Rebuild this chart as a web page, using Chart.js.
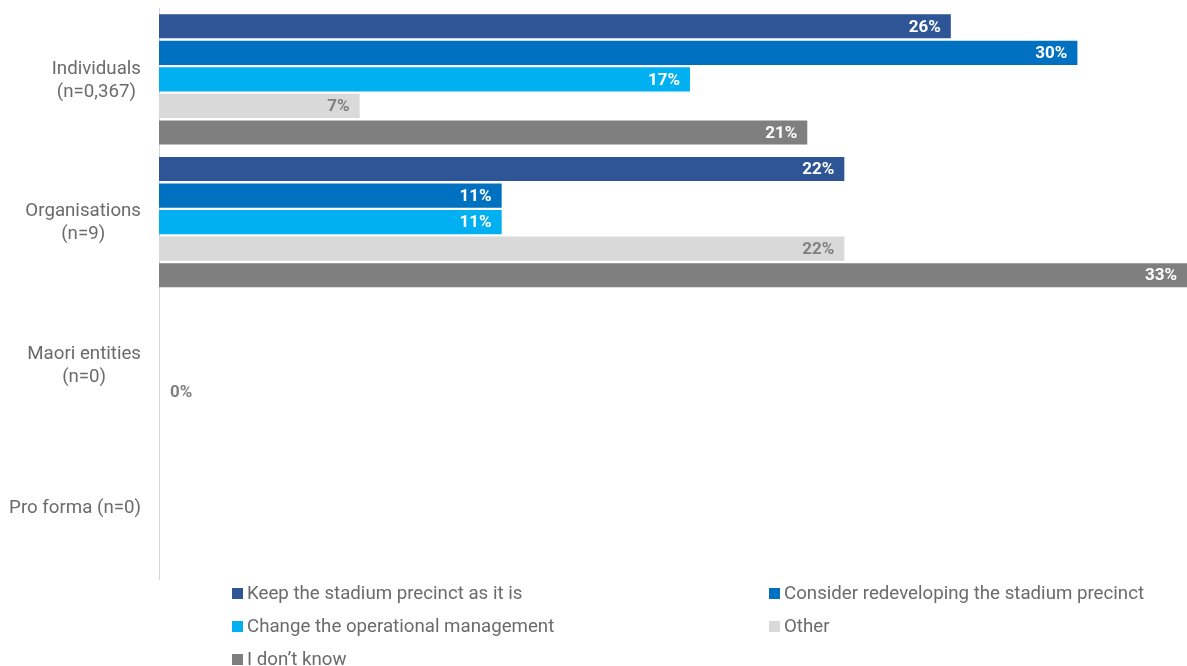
<!DOCTYPE html>
<html>
<head>
<meta charset="utf-8">
<script src="https://cdn.jsdelivr.net/npm/chart.js@4.4.1/dist/chart.umd.min.js"></script>
<style>
  body { margin: 0; background: #fff; }
  #wrap { position: relative; width: 1187px; height: 666px; }
  #legend { position: absolute; left: 0; top: 0; width: 1187px; height: 666px; pointer-events: none; font-family: Roboto, sans-serif; font-size: 18.7px; color: #6b6b6b; }
  .item { position: absolute; white-space: nowrap; line-height: 20px; display: flex; align-items: center; }
  .box { width: 11px; height: 11px; margin-right: 4px; display: inline-block; }
</style>
</head>
<body>
<div id="wrap">
  <canvas id="myChart"></canvas>
  <div id="legend"></div>
</div>
<script>
const categories = [['Individuals', '(n=0,367)'], ['Organisations', '(n=9)'], ['Maori entities', '(n=0)'], ['Pro forma (n=0)']];
const seriesNames = ['Keep the stadium precinct as it is', 'Consider redeveloping the stadium precinct', 'Change the operational management', 'Other', 'I don\u2019t know'];
const keepValues = [25.65, 22.2, null, null];
const redevelopValues = [29.75, 11.1, null, null];
const changeValues = [17.2, 11.1, null, null];
const otherValues = [6.5, 22.2, 0, null];
const dontKnowValues = [21.0, 33.3, null, null];
const colours = ['#2e5596', '#0070c0', '#00b0f0', '#d9d9d9', '#7f7f7f'];
const labelColours = ['#ffffff', '#ffffff', '#ffffff', '#808080', '#ffffff'];

const allValues = [keepValues, redevelopValues, changeValues, otherValues, dontKnowValues];

const valueLabels = {
  id: 'valueLabels',
  afterDatasetsDraw(chart) {
    const ctx = chart.ctx;
    ctx.save();
    ctx.font = 'bold 17px Roboto, sans-serif';
    ctx.textBaseline = 'middle';
    chart.data.datasets.forEach(function (ds, i) {
      const meta = chart.getDatasetMeta(i);
      meta.data.forEach(function (bar, j) {
        const v = ds.data[j];
        if (v === null || v === undefined) return;
        const txt = Math.round(v) + '%';
        ctx.fillStyle = labelColours[i];
        if (v === 0) {
          ctx.textAlign = 'left';
          ctx.fillText(txt, bar.base + 11, bar.y + 1);
        } else {
          ctx.textAlign = 'right';
          ctx.fillText(txt, bar.x - 10, bar.y + 1);
        }
      });
    });
    ctx.restore();
  }
};

const catLabels = {
  id: 'catLabels',
  afterDraw(chart) {
    const ctx = chart.ctx;
    const y = chart.scales.y;
    ctx.save();
    ctx.font = '18.7px Roboto, sans-serif';
    ctx.fillStyle = '#6b6b6b';
    ctx.textBaseline = 'middle';
    ctx.textAlign = 'center';
    const right = chart.chartArea.left - 18;
    categories.forEach(function (lines, i) {
      const cy = y.getPixelForTick(i);
      let w = 0;
      lines.forEach(function (l) { w = Math.max(w, ctx.measureText(l).width); });
      const cx = right - w / 2;
      const lh = 23;
      lines.forEach(function (l, k) {
        ctx.fillText(l, cx, cy + 1 + (k - (lines.length - 1) / 2) * lh);
      });
    });
    ctx.restore();
  }
};

const ctx2 = document.getElementById('myChart');
const chart = new Chart(ctx2, {
  type: 'bar',
  data: {
    labels: categories,
    datasets: seriesNames.map(function (name, i) {
      return {
        label: name,
        data: allValues[i],
        backgroundColor: colours[i],
        borderWidth: 0,
        categoryPercentage: 0.93,
        barPercentage: 0.91
      };
    })
  },
  options: {
    indexAxis: 'y',
    responsive: true,
    maintainAspectRatio: false,
    animation: false,
    layout: { padding: { top: 8, bottom: 87, right: 0, left: 0 } },
    plugins: {
      legend: { display: false },
      tooltip: { enabled: false }
    },
    scales: {
      x: {
        display: false,
        min: 0,
        max: 33.3
      },
      y: {
        grid: { display: false },
        border: { display: true, color: '#d4d4d4', width: 1 },
        ticks: { display: false },
        afterFit: function (scale) { scale.width = 159; }
      }
    }
  },
  plugins: [valueLabels, catLabels]
});

// legend in two columns
const legend = document.getElementById('legend');
seriesNames.forEach(function (name, i) {
  const col = i % 2;
  const row = Math.floor(i / 2);
  const d = document.createElement('div');
  d.className = 'item';
  d.style.left = (232 + col * 537) + 'px';
  d.style.top = (583 + row * 33) + 'px';
  d.innerHTML = '<span class="box" style="background:' + colours[i] + '"></span>';
  const t = document.createElement('span');
  t.textContent = name;
  d.appendChild(t);
  legend.appendChild(d);
});
</script>
</body>
</html>
